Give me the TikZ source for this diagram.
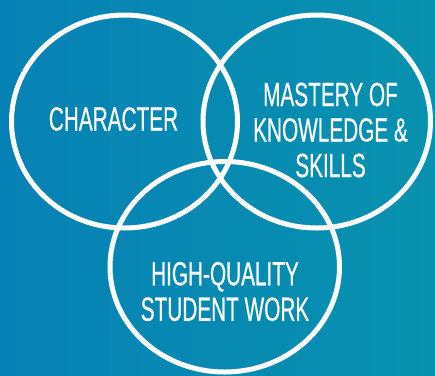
\documentclass[tikz,border=0pt]{standalone}
\usepackage{fontspec}
\setmainfont{Liberation Sans}[FakeStretch=0.62,FakeBold=0.4]
\definecolor{bgleft}{RGB}{6,129,181}
\definecolor{bgright}{RGB}{8,146,175}
\begin{document}
\begin{tikzpicture}[x=1bp,y=-1bp,
  ring/.style={draw=white,line width=5bp},
  lbl/.style={text=white,align=center,inner sep=0pt,
    font=\fontsize{33.5bp}{35.5bp}\selectfont}]
\shade[left color=bgleft,right color=bgright] (0,0) rectangle (435,375);
\useasboundingbox (0,0) rectangle (435,375);
\draw[ring] (124.5,121.5) ellipse [x radius=113, y radius=106.5];
\draw[ring] (316.75,121.5) ellipse [x radius=113.75, y radius=106.5];
\draw[ring] (224.75,266.75) ellipse [x radius=114.75, y radius=105.25];
\node[lbl] (char) at (113.5,119) {CHARACTER};
\node[lbl] (mast) at (330.5,130) {MASTERY OF\\KNOWLEDGE \&\\SKILLS};
\node[lbl] (work) at (225,291.5) {HIGH-QUALITY\\STUDENT WORK};
\end{tikzpicture}
\end{document}
